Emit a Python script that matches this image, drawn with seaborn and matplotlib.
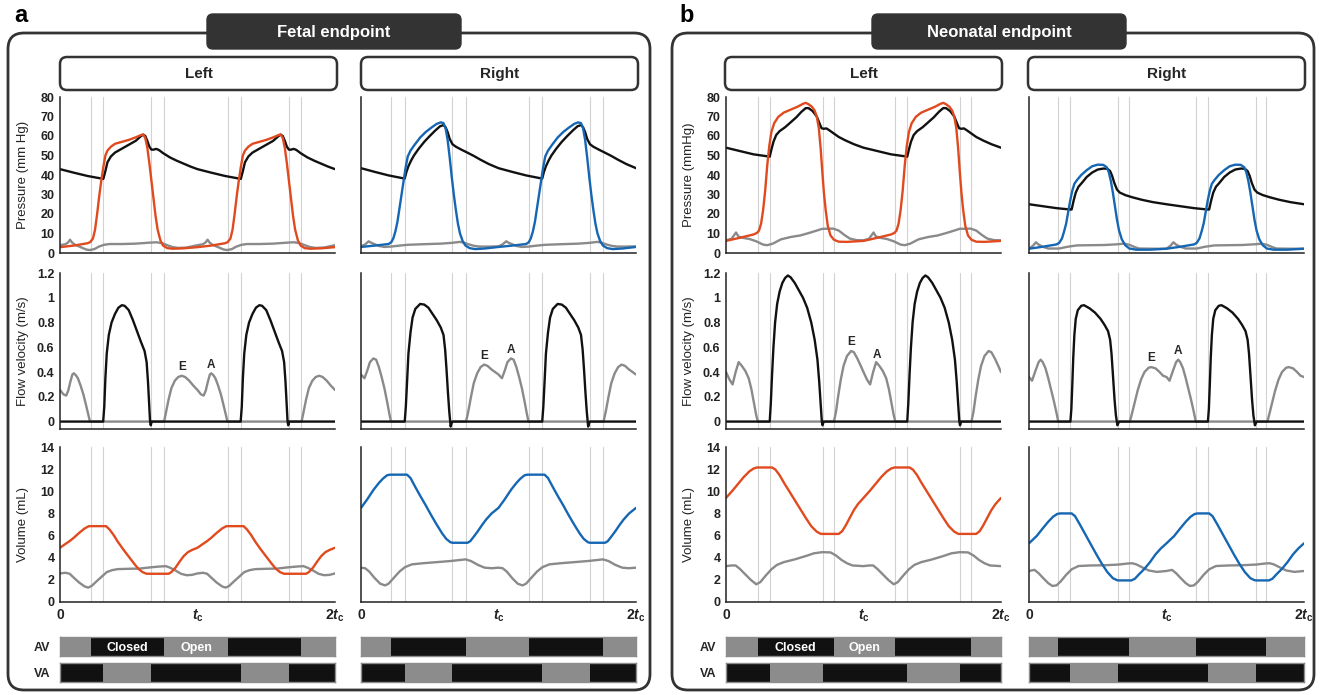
import numpy as np
import matplotlib
matplotlib.use("Agg")
import matplotlib.pyplot as plt
from matplotlib.patches import FancyBboxPatch
import seaborn as sns

sns.set_style("white")
plt.rcParams['font.family'] = ['Liberation Sans', 'DejaVu Sans']
plt.rcParams['mathtext.fontset'] = 'custom'
plt.rcParams['mathtext.it'] = 'Liberation Sans:italic:bold'
plt.rcParams['mathtext.rm'] = 'Liberation Sans:bold'
plt.rcParams['mathtext.bf'] = 'Liberation Sans:bold'

# ---- data: one cardiac cycle, (t / tc, value) ----
# fetal, left heart
fetal_left_events = [0.222, 0.315, 0.662, 0.756]
fetal_left_aop = [(0, 43), (0.1, 41.2), (0.2, 39.5), (0.3, 38.2), (0.315, 38), (0.33, 42), (0.345, 46.5),
                  (0.37, 49.5), (0.4, 51.5), (0.45, 53.5), (0.5, 55.5), (0.55, 57.5), (0.59, 60), (0.605, 60.7),
                  (0.62, 60), (0.635, 57.5), (0.65, 54.5), (0.665, 53), (0.68, 53), (0.7, 53.4), (0.72, 52.8),
                  (0.75, 51.2), (0.8, 49), (0.85, 47.3), (0.9, 45.8), (0.95, 44.3), (1.0, 43)]
fetal_left_lvp = [(0, 3.0), (0.1, 3.8), (0.2, 5.0), (0.22, 5.6), (0.24, 7.5), (0.255, 12), (0.27, 20), (0.285, 29),
                  (0.3, 37), (0.315, 44), (0.33, 50), (0.345, 52.5), (0.37, 54.5), (0.4, 56), (0.45, 57), (0.5, 58),
                  (0.55, 59.3), (0.59, 60.5), (0.605, 60.8), (0.62, 59), (0.635, 54), (0.65, 46), (0.665, 37),
                  (0.68, 28), (0.695, 19), (0.71, 12), (0.73, 6.5), (0.75, 3.8), (0.78, 2.5), (0.82, 2.2),
                  (0.9, 2.4), (1.0, 3.0)]
fetal_left_lap = [(0, 4.0), (0.04, 4.5), (0.06, 5.5), (0.073, 6.8), (0.09, 5.2), (0.11, 4.2), (0.15, 3.0), (0.19, 1.8),
                  (0.215, 1.5), (0.25, 2.0), (0.28, 3.2), (0.32, 4.2), (0.36, 4.6), (0.45, 4.6), (0.55, 4.8),
                  (0.65, 5.3), (0.7, 5.5), (0.74, 5.1), (0.78, 4.0), (0.82, 3.0), (0.86, 2.6), (0.92, 2.8), (1.0, 4.0)]
fetal_left_outflow = [(0, 0), (0.314, 0), (0.322, 0.12), (0.33, 0.35), (0.34, 0.55), (0.355, 0.7), (0.375, 0.8),
                      (0.4, 0.87), (0.425, 0.92), (0.45, 0.94), (0.47, 0.935), (0.5, 0.9), (0.53, 0.82), (0.56, 0.73),
                      (0.59, 0.64), (0.615, 0.57), (0.63, 0.48), (0.64, 0.32), (0.648, 0.15), (0.655, 0.0),
                      (0.66, -0.03), (0.667, 0.0), (1.0, 0)]
fetal_left_inflow = [(0, 0.255), (0.025, 0.22), (0.045, 0.21), (0.06, 0.25), (0.075, 0.32), (0.09, 0.38), (0.1, 0.39),
                     (0.115, 0.375), (0.13, 0.35), (0.15, 0.29), (0.17, 0.22), (0.19, 0.13), (0.205, 0.06),
                     (0.218, 0.0), (0.757, 0.0), (0.77, 0.07), (0.79, 0.18), (0.81, 0.27), (0.835, 0.33),
                     (0.86, 0.36), (0.885, 0.37), (0.91, 0.36), (0.94, 0.33), (0.97, 0.29), (1.0, 0.255)]
fetal_left_lvv = [(0, 4.9), (0.04, 5.25), (0.07, 5.5), (0.1, 5.8), (0.14, 6.25), (0.18, 6.65), (0.21, 6.85),
                  (0.335, 6.85), (0.36, 6.55), (0.39, 6.05), (0.42, 5.45), (0.46, 4.75), (0.5, 4.1), (0.54, 3.45),
                  (0.57, 3.0), (0.6, 2.7), (0.63, 2.55), (0.79, 2.55), (0.81, 2.7), (0.84, 3.1), (0.87, 3.65),
                  (0.9, 4.15), (0.93, 4.5), (0.96, 4.7), (1.0, 4.9)]
fetal_left_lav = [(0, 2.58), (0.04, 2.64), (0.07, 2.55), (0.1, 2.2), (0.14, 1.75), (0.18, 1.4), (0.205, 1.3),
                  (0.23, 1.45), (0.26, 1.8), (0.3, 2.25), (0.34, 2.7), (0.38, 2.88), (0.42, 2.97), (0.5, 3.0),
                  (0.58, 3.02), (0.65, 3.12), (0.72, 3.2), (0.77, 3.24), (0.8, 3.1), (0.84, 2.85), (0.88, 2.55),
                  (0.92, 2.42), (0.96, 2.45), (1.0, 2.58)]

# fetal, right heart
fetal_right_events = [0.22, 0.318, 0.662, 0.76]
fetal_right_pap = [(0, 43.5), (0.1, 41.6), (0.2, 39.8), (0.3, 38.4), (0.318, 38.2), (0.33, 41.5), (0.345, 44.5),
                   (0.365, 47.5), (0.385, 50), (0.42, 53.5), (0.46, 57), (0.5, 60), (0.54, 62.8), (0.575, 65),
                   (0.6, 65.6), (0.615, 64.5), (0.63, 62), (0.645, 58.5), (0.665, 55.8), (0.69, 54.5), (0.73, 53),
                   (0.77, 51.6), (0.82, 49.8), (0.87, 47.8), (0.93, 45.6), (1.0, 43.5)]
fetal_right_rvp = [(0, 3.1), (0.1, 3.8), (0.2, 4.6), (0.22, 5.5), (0.235, 7.5), (0.25, 11), (0.265, 16), (0.28, 23),
                   (0.295, 30), (0.31, 37), (0.325, 44), (0.34, 49.5), (0.36, 52.5), (0.39, 55.5), (0.43, 59.2),
                   (0.47, 62), (0.51, 64.2), (0.55, 66.2), (0.58, 67), (0.6, 66.6), (0.615, 64), (0.63, 58),
                   (0.645, 49), (0.66, 39), (0.675, 30), (0.69, 22), (0.705, 15), (0.72, 10), (0.74, 6), (0.76, 3.8),
                   (0.79, 2.5), (0.83, 2.0), (0.9, 2.3), (1.0, 3.1)]
fetal_right_rap = [(0, 3.4), (0.03, 4.4), (0.056, 6.0), (0.075, 5.2), (0.1, 4.5), (0.13, 3.6), (0.17, 3.1),
                   (0.22, 3.3), (0.28, 3.8), (0.34, 4.2), (0.45, 4.5), (0.58, 4.8), (0.66, 5.2), (0.72, 5.7),
                   (0.75, 5.3), (0.78, 4.5), (0.82, 3.7), (0.86, 3.3), (0.93, 3.3), (1.0, 3.4)]
fetal_right_outflow = [(0, 0), (0.318, 0), (0.326, 0.12), (0.335, 0.32), (0.345, 0.55), (0.36, 0.72), (0.375, 0.84),
                       (0.395, 0.91), (0.43, 0.95), (0.46, 0.945), (0.49, 0.92), (0.52, 0.87), (0.55, 0.82),
                       (0.58, 0.76), (0.6, 0.7), (0.612, 0.58), (0.622, 0.42), (0.632, 0.24), (0.642, 0.08),
                       (0.652, -0.04), (0.66, -0.01), (0.666, 0.0), (1.0, 0)]
fetal_right_inflow = [(0, 0.38), (0.025, 0.35), (0.045, 0.41), (0.065, 0.48), (0.09, 0.51), (0.11, 0.5),
                      (0.13, 0.44), (0.15, 0.36), (0.17, 0.27), (0.19, 0.16), (0.205, 0.07), (0.218, 0.0),
                      (0.764, 0.0), (0.78, 0.08), (0.8, 0.2), (0.82, 0.31), (0.845, 0.39), (0.87, 0.44),
                      (0.895, 0.46), (0.92, 0.45), (0.95, 0.42), (0.975, 0.4), (1.0, 0.38)]
fetal_right_rvv = [(0, 8.5), (0.044, 9.25), (0.092, 10.15), (0.13, 10.75), (0.16, 11.15), (0.19, 11.45), (0.21, 11.5),
                   (0.335, 11.5), (0.36, 11.2), (0.39, 10.5), (0.43, 9.6), (0.47, 8.75), (0.51, 7.85), (0.55, 7.0),
                   (0.59, 6.2), (0.62, 5.7), (0.65, 5.4), (0.665, 5.35), (0.775, 5.35), (0.795, 5.5), (0.82, 5.9),
                   (0.85, 6.4), (0.88, 6.95), (0.91, 7.45), (0.95, 8.0), (1.0, 8.5)]
fetal_right_rav = [(0, 3.1), (0.03, 3.05), (0.06, 2.75), (0.1, 2.15), (0.14, 1.65), (0.175, 1.5), (0.2, 1.65),
                   (0.24, 2.2), (0.28, 2.75), (0.32, 3.15), (0.37, 3.4), (0.45, 3.5), (0.55, 3.6), (0.65, 3.7),
                   (0.76, 3.85), (0.8, 3.7), (0.85, 3.35), (0.9, 3.1), (0.95, 3.05), (1.0, 3.1)]

# neonatal, left heart
neo_left_events = [0.232, 0.318, 0.703, 0.782]
neo_left_aop = [(0, 54), (0.1, 52.3), (0.2, 50.6), (0.3, 49.6), (0.318, 49.4), (0.33, 53), (0.345, 57), (0.365, 60.5),
                (0.39, 62.5), (0.43, 64.5), (0.47, 67), (0.51, 69.5), (0.55, 72.5), (0.58, 74.3), (0.6, 74.3),
                (0.63, 72.8), (0.66, 70), (0.68, 66.5), (0.695, 64), (0.71, 63.7), (0.73, 63.9), (0.75, 63),
                (0.78, 61.5), (0.82, 59.5), (0.87, 57.7), (0.93, 55.8), (1.0, 54)]
neo_left_lvp = [(0, 6.2), (0.1, 7.8), (0.2, 9.5), (0.225, 10.3), (0.24, 11.5), (0.255, 15), (0.27, 22), (0.285, 32),
                (0.3, 45), (0.315, 55), (0.33, 62), (0.35, 66.5), (0.38, 69.8), (0.42, 72), (0.47, 73.5), (0.52, 75),
                (0.56, 76.5), (0.58, 77), (0.6, 76.3), (0.625, 75), (0.645, 73), (0.66, 70), (0.675, 64),
                (0.688, 54), (0.7, 42), (0.712, 31), (0.725, 22), (0.74, 14), (0.76, 9), (0.785, 6.8), (0.82, 5.8),
                (0.88, 5.7), (0.95, 6.0), (1.0, 6.2)]
neo_left_lap = [(0, 6.5), (0.04, 7.3), (0.073, 10.5), (0.09, 8.5), (0.12, 7.8), (0.17, 7.2), (0.22, 6.0), (0.27, 4.3),
                (0.3, 4.0), (0.34, 4.8), (0.4, 7.0), (0.47, 8.2), (0.54, 9.0), (0.6, 10.2), (0.66, 11.5), (0.7, 12.4),
                (0.78, 12.5), (0.82, 11.5), (0.86, 9.3), (0.9, 7.4), (0.95, 6.6), (1.0, 6.5)]
neo_left_outflow = [(0, 0), (0.318, 0), (0.326, 0.15), (0.335, 0.38), (0.345, 0.6), (0.357, 0.8), (0.372, 0.95),
                    (0.39, 1.05), (0.41, 1.12), (0.43, 1.16), (0.45, 1.18), (0.47, 1.165), (0.5, 1.12), (0.53, 1.06),
                    (0.56, 1.0), (0.59, 0.92), (0.62, 0.8), (0.645, 0.66), (0.665, 0.5), (0.678, 0.32),
                    (0.688, 0.15), (0.697, 0.0), (0.702, -0.03), (0.71, 0.0), (1.0, 0)]
neo_left_inflow = [(0, 0.40), (0.025, 0.34), (0.048, 0.3), (0.07, 0.4), (0.092, 0.48), (0.115, 0.45), (0.14, 0.41),
                   (0.165, 0.35), (0.185, 0.26), (0.205, 0.14), (0.22, 0.05), (0.232, 0.0), (0.785, 0.0),
                   (0.8, 0.08), (0.815, 0.2), (0.835, 0.34), (0.855, 0.45), (0.88, 0.53), (0.91, 0.57),
                   (0.93, 0.56), (0.955, 0.51), (0.98, 0.45), (1.0, 0.40)]
neo_left_lvv = [(0, 9.4), (0.05, 10.1), (0.09, 10.7), (0.13, 11.3), (0.17, 11.8), (0.2, 12.05), (0.225, 12.15),
                (0.335, 12.15), (0.36, 11.95), (0.39, 11.45), (0.42, 10.8), (0.46, 10.0), (0.5, 9.2), (0.54, 8.4),
                (0.58, 7.6), (0.62, 6.85), (0.66, 6.35), (0.69, 6.15), (0.82, 6.15), (0.845, 6.4), (0.87, 6.9),
                (0.9, 7.6), (0.93, 8.3), (0.96, 8.85), (1.0, 9.4)]
neo_left_lav = [(0, 3.24), (0.04, 3.3), (0.07, 3.3), (0.1, 3.0), (0.14, 2.5), (0.18, 2.0), (0.22, 1.6), (0.25, 1.8),
                (0.29, 2.4), (0.33, 2.95), (0.37, 3.35), (0.42, 3.6), (0.5, 3.85), (0.58, 4.15), (0.64, 4.4),
                (0.7, 4.5), (0.76, 4.48), (0.8, 4.2), (0.84, 3.8), (0.88, 3.5), (0.92, 3.3), (1.0, 3.24)]

# neonatal, right heart
neo_right_events = [0.214, 0.300, 0.648, 0.726]
neo_right_pap = [(0, 25), (0.1, 24), (0.2, 23), (0.3, 22.3), (0.31, 22.3), (0.325, 27), (0.34, 31), (0.36, 34),
                 (0.385, 36), (0.42, 39), (0.46, 41.3), (0.5, 42.8), (0.54, 43.3), (0.57, 43.2), (0.59, 42),
                 (0.605, 39.5), (0.62, 36), (0.64, 32.5), (0.66, 31), (0.7, 29.7), (0.75, 28.6), (0.82, 27.3),
                 (0.9, 26.1), (1.0, 25)]
neo_right_rvp = [(0, 2.2), (0.1, 3.2), (0.2, 4.4), (0.22, 5.2), (0.24, 7.5), (0.255, 11), (0.27, 15), (0.285, 21),
                 (0.3, 27), (0.315, 32), (0.33, 35.5), (0.35, 37.5), (0.38, 40), (0.42, 42.5), (0.46, 44.5),
                 (0.5, 45.3), (0.54, 45.2), (0.565, 44), (0.58, 41.5), (0.595, 37), (0.61, 31), (0.625, 24),
                 (0.64, 17), (0.655, 11.5), (0.675, 7), (0.7, 4), (0.73, 2.3), (0.78, 1.7), (0.88, 1.7), (1.0, 2.2)]
neo_right_rap = [(0, 2.2), (0.03, 3.8), (0.05, 5.5), (0.07, 4.3), (0.1, 3.2), (0.14, 2.3), (0.22, 2.3), (0.28, 3.2),
                 (0.35, 3.9), (0.45, 4.0), (0.55, 4.1), (0.65, 4.5), (0.69, 4.8), (0.73, 4.2), (0.77, 3.0),
                 (0.8, 2.3), (0.9, 2.2), (1.0, 2.2)]
neo_right_outflow = [(0, 0), (0.301, 0), (0.308, 0.1), (0.315, 0.3), (0.322, 0.52), (0.33, 0.7), (0.34, 0.83),
                     (0.355, 0.9), (0.38, 0.935), (0.4, 0.94), (0.44, 0.915), (0.48, 0.88), (0.52, 0.83),
                     (0.55, 0.78), (0.575, 0.73), (0.59, 0.66), (0.6, 0.55), (0.612, 0.35), (0.622, 0.18),
                     (0.632, 0.05), (0.643, -0.03), (0.655, 0.0), (1.0, 0)]
neo_right_inflow = [(0, 0.36), (0.022, 0.33), (0.05, 0.42), (0.07, 0.48), (0.085, 0.5), (0.1, 0.48), (0.12, 0.43),
                    (0.14, 0.35), (0.16, 0.26), (0.18, 0.17), (0.2, 0.07), (0.213, 0.0), (0.734, 0.0), (0.75, 0.07),
                    (0.77, 0.16), (0.79, 0.25), (0.815, 0.34), (0.84, 0.4), (0.87, 0.435), (0.89, 0.44),
                    (0.92, 0.43), (0.95, 0.4), (0.975, 0.37), (1.0, 0.36)]
neo_right_rvv = [(0, 5.3), (0.055, 5.95), (0.1, 6.65), (0.14, 7.25), (0.175, 7.7), (0.205, 7.95), (0.225, 8.0),
                 (0.31, 8.0), (0.335, 7.75), (0.37, 7.0), (0.41, 6.1), (0.45, 5.2), (0.49, 4.3), (0.53, 3.45),
                 (0.57, 2.7), (0.61, 2.15), (0.64, 1.97), (0.65, 1.95), (0.745, 1.95), (0.77, 2.1), (0.8, 2.5),
                 (0.84, 3.0), (0.88, 3.6), (0.92, 4.3), (0.96, 4.85), (1.0, 5.3)]
neo_right_rav = [(0, 2.8), (0.04, 2.9), (0.07, 2.6), (0.1, 2.2), (0.14, 1.7), (0.17, 1.45), (0.2, 1.5), (0.23, 1.85),
                 (0.27, 2.45), (0.31, 2.95), (0.36, 3.25), (0.45, 3.3), (0.55, 3.32), (0.65, 3.38), (0.72, 3.48),
                 (0.75, 3.5), (0.78, 3.4), (0.82, 3.15), (0.87, 2.85), (0.93, 2.72), (1.0, 2.8)]

# E / A label positions (t / tc, m/s)
fetal_left_ea = [(0.885, 0.44), (1.1, 0.46)]
fetal_right_ea = [(0.895, 0.53), (1.09, 0.58)]
neo_left_ea = [(0.91, 0.64), (1.1, 0.54)]
neo_right_ea = [(0.89, 0.51), (1.085, 0.57)]

pressure_ticks = list(range(0, 81, 10))
flow_ticks = [0, 0.2, 0.4, 0.6, 0.8, 1, 1.2]
flow_ticklabels = ['0', '0.2', '0.4', '0.6', '0.8', '1', '1.2']
volume_ticks = list(range(0, 15, 2))
time_ticklabels = ['0', r'$t_\mathrm{c}$', r'2$t_\mathrm{c}$']

RED = '#E04A1E'
BLUE = '#1566B3'
GREY = '#8A8A8A'
BLACK = '#111111'
FRAME = '#333333'

W, H = 1321, 695
fig = plt.figure(figsize=(W / 100, H / 100), dpi=100)

bg = fig.add_axes([0, 0, 1, 1])
bg.set_xlim(0, W)
bg.set_ylim(H, 0)
bg.axis('off')


def box(x, y, w, h, r, fc, lw):
    bg.add_patch(FancyBboxPatch((x, y), w, h, boxstyle=f"round,pad=0,rounding_size={r}",
                                fc=fc, ec=FRAME, lw=lw))


for fx, cx, title, letter, lx in [(8, 207, 'Fetal endpoint', 'a', 14),
                                   (672, 872, 'Neonatal endpoint', 'b', 679)]:
    box(fx, 33, 642, 657, 16, 'none', 2.0)
    box(cx, 14, 254, 35, 6, FRAME, 1.0)
    bg.text(cx + 127, 32, title, color='white', fontsize=12, fontweight='bold', ha='center', va='center')
    bg.text(lx, 15, letter, color='black', fontsize=17, fontweight='bold', ha='left', va='center')

for hx, name in [(60, 'Left'), (361, 'Right'), (725, 'Left'), (1028, 'Right')]:
    box(hx, 57, 277, 33, 7, 'white', 1.8)
    bg.text(hx + 138.5, 74, name, fontsize=11, fontweight='bold', ha='center', va='center')


def px_axes(x0, y0, x1, y1):
    return fig.add_axes([x0 / W, 1 - y1 / H, (x1 - x0) / W, (y1 - y0) / H])


def two_cycles(pts):
    t = np.array([p[0] for p in pts], dtype=float)
    v = np.array([p[1] for p in pts], dtype=float)
    return np.concatenate([t[:-1], t[:-1] + 1, [2.0]]), np.concatenate([v[:-1], v[:-1], [v[-1]]])


def curve(ax, pts, color):
    tt, vv = two_cycles(pts)
    sns.lineplot(x=tt, y=vv, ax=ax, color=color, lw=1.7, estimator=None, sort=False)


def style(ax, ticks, labels, ylim, events, show):
    ax.set_xlim(0, 2)
    ax.set_ylim(*ylim)
    for e in events:
        ax.axvline(e, color='#d2d2d2', lw=0.8, zorder=0)
        ax.axvline(e + 1, color='#d2d2d2', lw=0.8, zorder=0)
    sns.despine(ax=ax)
    for s in ['left', 'bottom']:
        ax.spines[s].set_color('#222222')
        ax.spines[s].set_linewidth(1.1)
    ax.set_yticks(ticks)
    ax.set_yticklabels(labels if show else [], fontsize=9, fontweight='bold')
    ax.tick_params(direction='in', length=3.5, width=1, pad=4, colors='#222222')
    ax.set_xticks([0, 1, 2])
    ax.set_xticklabels([])


def column(x0, x1, events, art, vent, atr, outflow, inflow, vvol, avol, ea, color, show, plabel):
    ax = px_axes(x0, 97, x1, 253)
    curve(ax, atr, GREY)
    curve(ax, art, BLACK)
    curve(ax, vent, color)
    style(ax, pressure_ticks, [str(v) for v in pressure_ticks], (0, 80), events, show)
    ax.set_ylabel(plabel if show else '', fontsize=9.5, color='#222222')

    ax2 = px_axes(x0, 273, x1, 429)
    curve(ax2, inflow, GREY)
    curve(ax2, outflow, BLACK)
    style(ax2, flow_ticks, flow_ticklabels, (-0.06, 1.2), events, show)
    ax2.set_ylabel('Flow velocity (m/s)' if show else '', fontsize=9.5, color='#222222')
    for (tx, ty), s in zip(ea, ['E', 'A']):
        ax2.text(tx, ty, s, fontsize=8.5, fontweight='bold', ha='center', va='center')

    ax3 = px_axes(x0, 447, x1, 602)
    curve(ax3, avol, GREY)
    curve(ax3, vvol, color)
    style(ax3, volume_ticks, [str(v) for v in volume_ticks], (0, 14), events, show)
    ax3.set_xticklabels(time_ticklabels, fontsize=10, fontweight='bold')
    ax3.set_ylabel('Volume (mL)' if show else '', fontsize=9.5, color='#222222')
    for a in (ax, ax2, ax3):
        a.yaxis.set_label_coords(-0.112, 0.5)

    # valve timing bars
    e0, e1, e2, e3 = events
    av_open = [(0, e0), (e3, 1 + e0), (1 + e3, 2)]
    va_open = [(e1, e2), (1 + e1, 1 + e2)]
    for (y0, y1), spans, name in [((637, 656), av_open, 'AV'), ((663, 682), va_open, 'VA')]:
        bx = px_axes(x0, y0, x1, y1)
        bx.barh(0, 2, left=0, height=1, color=BLACK, linewidth=0)
        bx.barh([0] * len(spans), [b - a for a, b in spans], left=[a for a, b in spans], height=1,
                color='#8C8C8C', linewidth=0)
        bx.set_xlim(0, 2)
        bx.set_ylim(-0.5, 0.5)
        bx.set_xticks([])
        bx.set_yticks([])
        for s in bx.spines.values():
            s.set_color('#8C8C8C')
            s.set_linewidth(1.0)
        if show:
            bx.text(-0.035, 0, name, transform=bx.get_yaxis_transform(), fontsize=9,
                    fontweight='bold', ha='right', va='center_baseline')
            if name == 'AV':
                bx.text((e0 + e3) / 2, 0, 'Closed', color='white', fontsize=9, fontweight='bold',
                        ha='center', va='center_baseline')
                bx.text((e3 + 1 + e0) / 2, 0, 'Open', color='white', fontsize=9, fontweight='bold',
                        ha='center', va='center_baseline')


column(60, 335, fetal_left_events, fetal_left_aop, fetal_left_lvp, fetal_left_lap, fetal_left_outflow,
       fetal_left_inflow, fetal_left_lvv, fetal_left_lav, fetal_left_ea, RED, True, 'Pressure (mm Hg)')
column(361, 636, fetal_right_events, fetal_right_pap, fetal_right_rvp, fetal_right_rap, fetal_right_outflow,
       fetal_right_inflow, fetal_right_rvv, fetal_right_rav, fetal_right_ea, BLUE, False, '')
column(726, 1001, neo_left_events, neo_left_aop, neo_left_lvp, neo_left_lap, neo_left_outflow,
       neo_left_inflow, neo_left_lvv, neo_left_lav, neo_left_ea, RED, True, 'Pressure (mmHg)')
column(1029, 1304, neo_right_events, neo_right_pap, neo_right_rvp, neo_right_rap, neo_right_outflow,
       neo_right_inflow, neo_right_rvv, neo_right_rav, neo_right_ea, BLUE, False, '')

fig.savefig('out.png', dpi=100)
